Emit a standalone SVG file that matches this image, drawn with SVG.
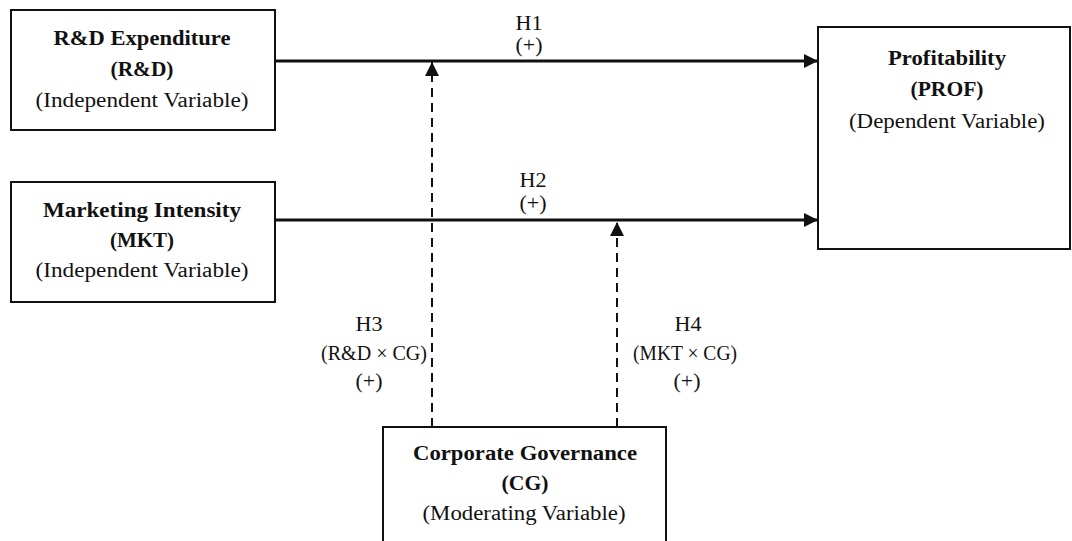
<svg xmlns="http://www.w3.org/2000/svg" width="1072" height="541" viewBox="0 0 1072 541">
<defs>
<style>
.box{fill:#fff;stroke:#111;stroke-width:2}
.t{font-family:"Liberation Serif","Times New Roman",serif;font-size:20px;fill:#111;text-anchor:middle}
.b{font-weight:bold}
.line{stroke:#111;stroke-width:2.8;fill:none}
.dash{stroke:#111;stroke-width:2;fill:none;stroke-dasharray:9,6}
</style>
<marker id="arr" viewBox="0 0 10 10" refX="10" refY="5" markerWidth="17" markerHeight="14" markerUnits="userSpaceOnUse" orient="auto">
<path d="M0,0 L10,5 L0,10 Z" fill="#111"/>
</marker>
</defs>
<rect width="1072" height="541" fill="#fff"/>
<g id="connectors">
<line class="line" x1="275" y1="61" x2="818" y2="61" marker-end="url(#arr)"/>
<line class="line" x1="275" y1="220" x2="818" y2="220" marker-end="url(#arr)"/>
<line class="dash" x1="432" y1="427" x2="432" y2="62" marker-end="url(#arr)"/>
<line class="dash" x1="617" y1="427" x2="617" y2="222" marker-end="url(#arr)"/>
<text class="t" x="529" y="30" textLength="27" lengthAdjust="spacingAndGlyphs">H1</text>
<text class="t" x="529" y="52" textLength="27" lengthAdjust="spacingAndGlyphs">(+)</text>
<text class="t" x="533" y="187" textLength="27" lengthAdjust="spacingAndGlyphs">H2</text>
<text class="t" x="533" y="210" textLength="27" lengthAdjust="spacingAndGlyphs">(+)</text>
<text class="t" x="369" y="331" textLength="27" lengthAdjust="spacingAndGlyphs">H3</text>
<text class="t" x="374" y="360" textLength="106" lengthAdjust="spacingAndGlyphs">(R&amp;D × CG)</text>
<text class="t" x="369" y="388" textLength="27" lengthAdjust="spacingAndGlyphs">(+)</text>
<text class="t" x="688" y="331" textLength="27" lengthAdjust="spacingAndGlyphs">H4</text>
<text class="t" x="685" y="360" textLength="104" lengthAdjust="spacingAndGlyphs">(MKT × CG)</text>
<text class="t" x="687" y="388" textLength="27" lengthAdjust="spacingAndGlyphs">(+)</text>
</g>
<g id="rd">
<rect class="box" x="11" y="10" width="264" height="120"/>
<text class="t b" x="142" y="45" textLength="177" lengthAdjust="spacingAndGlyphs">R&amp;D Expenditure</text>
<text class="t b" x="142" y="76" textLength="63" lengthAdjust="spacingAndGlyphs">(R&amp;D)</text>
<text class="t" x="142" y="107" textLength="213" lengthAdjust="spacingAndGlyphs">(Independent Variable)</text>
</g>
<g id="mkt">
<rect class="box" x="11" y="182" width="264" height="120"/>
<text class="t b" x="142" y="217" textLength="198" lengthAdjust="spacingAndGlyphs">Marketing Intensity</text>
<text class="t b" x="142" y="247" textLength="64" lengthAdjust="spacingAndGlyphs">(MKT)</text>
<text class="t" x="142" y="277" textLength="213" lengthAdjust="spacingAndGlyphs">(Independent Variable)</text>
</g>
<g id="prof">
<rect class="box" x="818" y="27" width="252" height="222"/>
<text class="t b" x="947" y="65" textLength="118" lengthAdjust="spacingAndGlyphs">Profitability</text>
<text class="t b" x="947" y="96" textLength="73" lengthAdjust="spacingAndGlyphs">(PROF)</text>
<text class="t" x="947" y="128" textLength="196" lengthAdjust="spacingAndGlyphs">(Dependent Variable)</text>
</g>
<g id="cg">
<rect class="box" x="383" y="427" width="283" height="130"/>
<text class="t b" x="525" y="460" textLength="224" lengthAdjust="spacingAndGlyphs">Corporate Governance</text>
<text class="t b" x="525" y="490" textLength="47" lengthAdjust="spacingAndGlyphs">(CG)</text>
<text class="t" x="524" y="520" textLength="203" lengthAdjust="spacingAndGlyphs">(Moderating Variable)</text>
</g>
</svg>
